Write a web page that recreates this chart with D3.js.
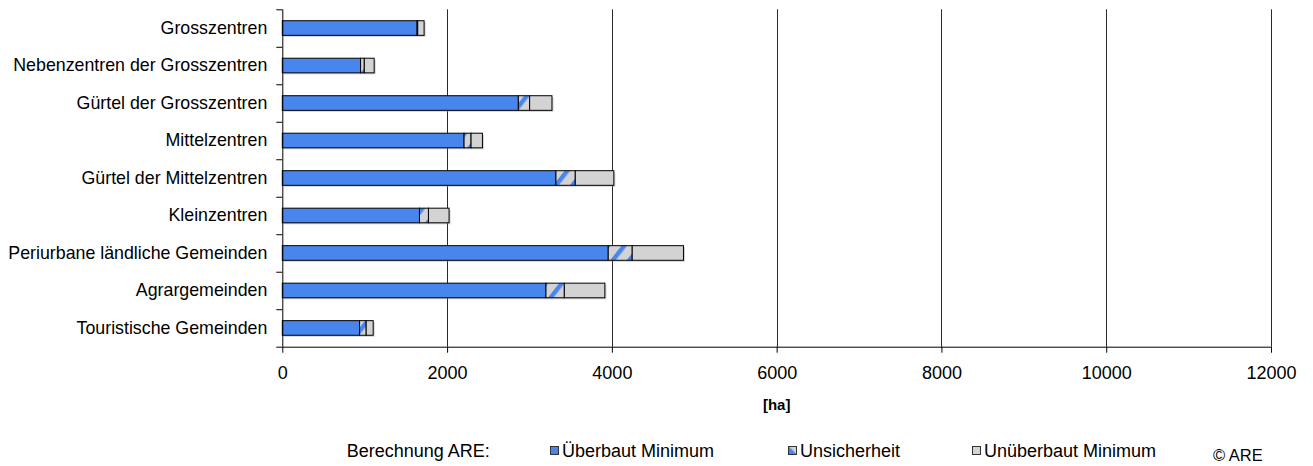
<!DOCTYPE html>
<html>
<head>
<meta charset="utf-8">
<script src="https://cdn.jsdelivr.net/npm/d3@7"></script>
<style>
  html, body { margin: 0; padding: 0; background: #fff; }
  svg { display: block; font-family: "Liberation Sans", Arial, sans-serif; }
</style>
</head>
<body>
<svg id="chart" width="1313" height="466"></svg>
<script>
const categories = [
  "Grosszentren",
  "Nebenzentren der Grosszentren",
  "Gürtel der Grosszentren",
  "Mittelzentren",
  "Gürtel der Mittelzentren",
  "Kleinzentren",
  "Periurbane ländliche Gemeinden",
  "Agrargemeinden",
  "Touristische Gemeinden"
];
const ueberbautMinimum   = [1636, 950, 2865, 2206, 3321, 1665, 3956, 3200, 938];
const unsicherheit       = [8, 45, 137, 85, 235, 109, 291, 223, 80];
const unueberbautMinimum = [77, 120, 271, 138, 468, 250, 622, 492, 85];
const xTicks = [0, 2000, 4000, 6000, 8000, 10000, 12000];
const seriesNames = ["Überbaut Minimum", "Unsicherheit", "Unüberbaut Minimum"];
const legendTitle = "Berechnung ARE:";
const axisTitle = "[ha]";
const copyright = "© ARE";

const svg = d3.select("#chart");
const pLeft = 282.3, pRight = 1271, pTop = 9.3, pBottom = 346.7;
const blue = "#4885EC", gray = "#D3D3D3";

const defs = svg.append("defs");
const pat = defs.append("pattern").attr("id", "hatch")
  .attr("patternUnits", "userSpaceOnUse").attr("width", 13).attr("height", 13)
  .attr("patternTransform", "rotate(38)");
pat.append("rect").attr("width", 13).attr("height", 13).attr("fill", gray);
pat.append("rect").attr("x", 4).attr("width", 4.4).attr("height", 13).attr("fill", blue);

const grad = defs.append("linearGradient").attr("id", "legGrad")
  .attr("x1", "0%").attr("y1", "100%").attr("x2", "100%").attr("y2", "0%");
grad.append("stop").attr("offset", "0%").attr("stop-color", blue);
grad.append("stop").attr("offset", "45%").attr("stop-color", blue);
grad.append("stop").attr("offset", "60%").attr("stop-color", gray);
grad.append("stop").attr("offset", "100%").attr("stop-color", gray);

const fills = [blue, "url(#hatch)", gray];
const legendFills = [blue, "url(#legGrad)", gray];

const x = d3.scaleLinear().domain([0, 12000]).range([pLeft, pRight]);
const y = d3.scaleBand().domain(categories).range([pTop, pBottom])
  .paddingInner(0.61).paddingOuter(0.305);
const yEdges = d3.scaleLinear().domain([0, categories.length]).range([pTop, pBottom]);

// gridlines
svg.append("g").selectAll("line").data(xTicks.slice(1)).join("line")
  .attr("x1", d => Math.round(x(d)) + 0.5).attr("x2", d => Math.round(x(d)) + 0.5)
  .attr("y1", pTop).attr("y2", pBottom)
  .attr("stroke", "#2a2a2a").attr("stroke-width", 1);

// stacked data
const rows = categories.map((c, i) => ({
  cat: c, s0: ueberbautMinimum[i], s1: unsicherheit[i], s2: unueberbautMinimum[i]
}));
const stack = d3.stack().keys(["s0", "s1", "s2"]);
const stacked = stack(rows);

// shadow
svg.append("g").selectAll("rect").data(rows).join("rect")
  .attr("x", x(0) + 1.5)
  .attr("y", d => y(d.cat) + 1.5)
  .attr("width", d => x(d.s0 + d.s1 + d.s2) - x(0))
  .attr("height", y.bandwidth())
  .attr("fill", "#999").attr("opacity", 0.45);

const layers = svg.append("g").selectAll("g").data(stacked).join("g")
  .attr("fill", (d, i) => fills[i]);
layers.selectAll("rect").data(d => d).join("rect")
  .attr("x", d => x(d[0]))
  .attr("y", d => y(d.data.cat))
  .attr("width", d => Math.max(0, x(d[1]) - x(d[0])))
  .attr("height", y.bandwidth())
  .attr("stroke", "#000").attr("stroke-width", 1);

// x axis
const xAxis = svg.append("g").attr("transform", `translate(0,${pBottom})`)
  .call(d3.axisBottom(x).tickValues(xTicks).tickSize(6).tickPadding(14).tickFormat(d3.format("d")));
xAxis.selectAll("text").attr("font-size", 18).attr("fill", "#000")
  .attr("font-family", "Liberation Sans, Arial, sans-serif");
xAxis.selectAll("line, path").attr("stroke", "#000");
xAxis.select(".domain").attr("d", `M${pLeft},0.5H${pRight}`);

// y axis ticks at band edges
const yAxisTicks = svg.append("g").attr("transform", `translate(${pLeft},0)`)
  .call(d3.axisLeft(yEdges).tickValues(d3.range(categories.length + 1)).tickSize(6).tickFormat(""));
yAxisTicks.selectAll("line, path").attr("stroke", "#000");
yAxisTicks.select(".domain").attr("d", `M0.5,${pTop}V${pBottom}`);

// y labels
const yLab = svg.append("g").attr("transform", `translate(${pLeft},0)`)
  .call(d3.axisLeft(y).tickSize(0).tickPadding(15));
yLab.select(".domain").remove();
yLab.selectAll("text").attr("font-size", 17.8).attr("fill", "#000")
  .attr("font-family", "Liberation Sans, Arial, sans-serif");

// axis title
svg.append("text").attr("x", (pLeft + pRight) / 2).attr("y", 409.5)
  .attr("text-anchor", "middle").attr("font-size", 15).attr("font-weight", "bold")
  .text(axisTitle);

// legend
const legY = 457.3;
svg.append("text").attr("x", 346.7).attr("y", legY).attr("font-size", 18).text(legendTitle);
const legX = [550, 788, 972];
const leg = svg.append("g").selectAll("g").data(seriesNames).join("g")
  .attr("transform", (d, i) => `translate(${legX[i]},0)`);
leg.append("rect").attr("x", 0.5).attr("y", 446.5).attr("width", 8).attr("height", 8)
  .attr("fill", (d, i) => legendFills[i]).attr("stroke", "#333").attr("stroke-width", 1);
leg.append("text").attr("x", 12).attr("y", legY).attr("font-size", 18).text(d => d);

svg.append("text").attr("x", 1213).attr("y", 461).attr("font-size", 16.5).text(copyright);
</script>
</body>
</html>
